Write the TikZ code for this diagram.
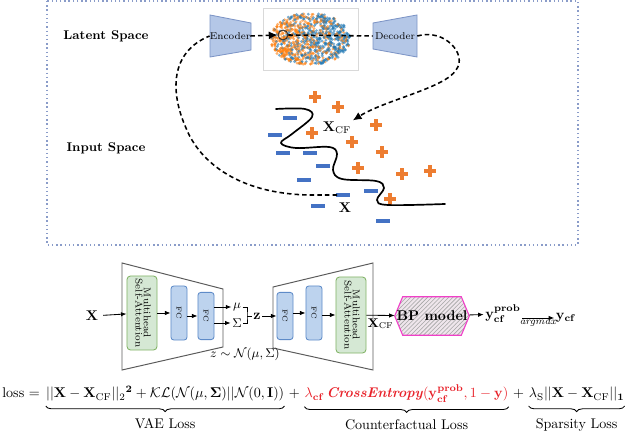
\documentclass[tikz,border=0pt]{standalone}
\usepackage{amsmath,amssymb}
\usetikzlibrary{arrows.meta,positioning,calc,patterns,decorations.pathreplacing}
\definecolor{Slate}{HTML}{5A5A5A}
\definecolor{BoxDot}{HTML}{8A9CC9}
\definecolor{EncFill}{HTML}{B4C7E7}
\definecolor{EncLine}{HTML}{7D95C6}
\definecolor{AttnFill}{HTML}{D5E8D4}
\definecolor{AttnLine}{HTML}{82B366}
\definecolor{FCFill}{HTML}{BDD3EE}
\definecolor{FCLine}{HTML}{5E8BC8}
\definecolor{PlusOr}{HTML}{ED7D31}
\definecolor{MinusBl}{HTML}{4472C4}
\definecolor{DotOr}{HTML}{FF7F0E}
\definecolor{DotBl}{HTML}{1F77B4}
\definecolor{BPLine}{HTML}{F040C8}
\definecolor{BPFill}{HTML}{EFE6EC}
\definecolor{CfRed}{HTML}{E8222A}
\tikzset{
  trap/.style={draw=EncLine,fill=EncFill,line width=.6pt},
  outertrap/.style={draw=Slate,line width=.7pt},
  dashline/.style={draw=black,line width=1.1pt,dash pattern=on 3.2pt off 2.2pt},
  attn/.style={draw=AttnLine,fill=AttnFill,rounded corners=2.5pt,line width=.6pt,minimum width=.75cm,minimum height=1.85cm,inner sep=0pt,font=\scriptsize},
  fcbox/.style={draw=FCLine,fill=FCFill,rounded corners=2pt,line width=.6pt,minimum width=.4cm,inner sep=0pt,font=\tiny},
  arr/.style={-{Latex[length=1.4mm,width=1.1mm]},line width=.6pt},
  brc/.style={decorate,decoration={brace,amplitude=4pt,raise=1pt},line width=.6pt},
  plussign/.pic={\fill[PlusOr] (-6,-2) rectangle (6,2); \fill[PlusOr] (-2,-6) rectangle (2,6);},
  minussign/.pic={\fill[MinusBl] (-7,-2) rectangle (7,2);}
}

\begin{document}
\begin{tikzpicture}[x=0.025cm,y=-0.025cm]
  \useasboundingbox (0,0) rectangle (640,438);
  % upper panel
  \draw[BoxDot,line width=1pt,dotted] (47,1) rectangle (578,245);
  \node[font=\small\bfseries] (latent) at (106,36) {Latent Space};
  \node[font=\small\bfseries] (input) at (106,148) {Input Space};

  \draw[trap] (210,15) -- (251,23) -- (251,50) -- (210,57) -- cycle;
  \draw[trap] (373,23) -- (417,15) -- (417,57) -- (373,49) -- cycle;
  \node[font=\scriptsize,inner sep=0pt,minimum width=1cm] (encL) at (230,36) {Encoder};
  \node[font=\scriptsize,inner sep=0pt,minimum width=1.1cm] (decL) at (395,36) {Decoder};

  % latent scatter
  \draw[gray!30,line width=.5pt] (263,8) rectangle (358,70);
  \pgfmathsetseed{42}
  \foreach \k in {1,...,950}{
    \pgfmathsetmacro\ang{360*rnd}
    \pgfmathsetmacro\rad{sqrt(rnd)}
    \pgfmathsetmacro\px{310+40*\rad*cos(\ang)}
    \pgfmathsetmacro\py{39+26*\rad*sin(\ang)}
    \pgfmathtruncatemacro\isor{rnd<(0.5-0.35*\rad*cos(\ang)) ? 1 : 0}
    \ifnum\isor=1
      \fill[DotOr,opacity=.6] (\px,\py) circle[radius=1.1pt];
    \else
      \fill[DotBl,opacity=.6] (\px,\py) circle[radius=1.1pt];
    \fi
  }
  \node[draw=black!80,circle,line width=.7pt,inner sep=0pt,minimum size=7pt] (zpt) at (283,35) {};
  \draw[dashline,-{Latex[length=2.2mm,width=2mm]}] (encL.east) -- (zpt.west);
  \draw[dashline] (zpt.east) -- (decL.west);

  % input space
  \foreach \q in {(315,97),(338,107),(376,125),(312,133),(352,142),(382,152),(358,168),(402,174),(430,171),(390,199)}
    \pic at \q {plussign};
  \foreach \q in {(290,118),(275,135),(283,153),(310,153),(323,166),(304,180),(343,195),(371,191),(318,206),(383,221)}
    \pic at \q {minussign};
  \draw[line width=1.2pt,line cap=round] plot[smooth,tension=.6] coordinates
    {(276,109) (305,109) (312,117) (292,134) (281,143) (296,148) (329,147) (337,154) (333,170) (342,179) (376,181) (384,188) (377,200) (388,205) (445,204)};
  \node[inner sep=1pt] (xcfT) at (337,128) {$\mathbf{X}_{\mathrm{CF}}$};
  \node[inner sep=1pt] (xT) at (345,208) {$\mathbf{X}$};
  \coordinate (xpt) at (337,195);
  \draw[dashline,-{Latex[length=2.2mm,width=2mm]}] (decL.east) .. controls (445,28) and (468,55) .. (456,70)
    .. controls (445,88) and (385,100) .. (xcfT.north east);
  \draw[dashline] (xpt) -- (310,195) .. controls (240,194) and (200,163) .. (186,128)
    .. controls (170,92) and (170,52) .. (encL.west);

  % lower diagram
  \draw[outertrap] (122,263) -- (223,289) -- (223,347) -- (122,370) -- cycle;
  \draw[outertrap] (273,287) -- (373,263) -- (373,370) -- (273,348) -- cycle;
  \node (xin) at (92,316) {$\mathbf{X}$};
  \node[attn] (attnA) at (142,313) {\rotatebox{-90}{\begin{tabular}{@{}c@{}}Multihead\\[-2pt]Self-Attention\end{tabular}}};
  \node[fcbox,minimum height=1.35cm] (fcA) at (179,313) {\rotatebox{-90}{FC}};
  \node[fcbox,minimum height=1.18cm] (fcB) at (206,316) {\rotatebox{-90}{FC}};
  \node[inner sep=1pt,font=\small] (mu) at (237,307) {$\mu$};
  \node[inner sep=1pt,font=\small] (sig) at (237,323) {$\Sigma$};
  \node[inner sep=1pt] (zz) at (257,316) {$\mathbf{z}$};
  \coordinate (brk) at (247,316);
  \node[fcbox,minimum height=1.18cm] (fcC) at (285,316) {\rotatebox{-90}{FC}};
  \node[fcbox,minimum height=1.35cm] (fcD) at (314,313) {\rotatebox{-90}{FC}};
  \node[attn,minimum height=1.9cm] (attnB) at (351,315) {\rotatebox{-90}{\begin{tabular}{@{}c@{}}Multihead\\[-2pt]Self-Attention\end{tabular}}};
  \node[minimum width=1.85cm,minimum height=.95cm,inner sep=0pt] (bp) at (432,316) {};
  \draw[BPLine,line width=.8pt,preaction={fill=BPFill},pattern=north east lines,pattern color=gray!70]
    (bp.west) -- ($(bp.north west)+(8,0)$) -- ($(bp.north east)+(-8,0)$) -- (bp.east)
    -- ($(bp.south east)+(-8,0)$) -- ($(bp.south west)+(8,0)$) -- cycle;
  \node[font=\bfseries] (bptext) at (bp) {BP model};
  \node[inner sep=1pt] (yprob) at (503,314) {$\mathbf{y}^{\mathbf{prob}}_{\mathbf{cf}}$};
  \node[inner sep=1pt] (ycf) at (566,318) {$\mathbf{y}_{\mathbf{cf}}$};

  \draw[arr] (xin) -- (attnA);
  \draw[arr] (attnA) -- (fcA);
  \draw[arr] (fcA.east |- fcB) -- (fcB);
  \draw[arr] (fcB.east |- mu) -- (mu.west);
  \draw[arr] (fcB.east |- sig) -- (sig.west);
  \draw[line width=.6pt] (mu.east) -| (brk) |- (sig.east);
  \draw[line width=.6pt] (brk) -- (zz.west);
  \draw[arr] (zz.east) -- (fcC);
  \draw[arr] (fcC.east |- fcD) -- (fcD);
  \draw[arr] (fcD.east |- attnB) -- (attnB);
  \draw[arr] (attnB) -- node[below,font=\small,inner sep=2pt] (xcfB) {$\mathbf{X}_{\mathrm{CF}}$} (bp);
  \draw[arr] (bp) -- (yprob);
  \draw[arr] (yprob.east |- ycf) -- node[below,font=\scriptsize,inner sep=1pt] (amax) {$\mathit{argmax}$} (ycf);
  \node[font=\small] (zdist) at (245,354) {$z\sim\mathcal{N}(\mu,\Sigma)$};

  % loss
  \node[anchor=base west,inner sep=0pt] (lossL) at (2,398) {loss $=$};
  \node[anchor=base west,inner sep=0pt] (vae) at ([xshift=4pt]lossL.base east)
    {$||\mathbf{X}-\mathbf{X}_{\mathrm{CF}}||_{2}{}^{\mathbf{2}}+\mathcal{KL}(\mathcal{N}(\mu,\mathbf{\Sigma})||\mathcal{N}(0,\mathbf{I}))$};
  \node[anchor=base west,inner sep=0pt] (plusA) at ([xshift=3pt]vae.base east) {$+$};
  \node[anchor=base west,inner sep=0pt,text=CfRed] (cfl) at ([xshift=3pt]plusA.base east)
    {$\lambda_{\mathbf{cf}}$\,\textbf{\textit{CrossEntropy}}$(\mathbf{y}^{\mathbf{prob}}_{\mathbf{cf}},1-\mathbf{y})$};
  \node[anchor=base west,inner sep=0pt] (plusB) at ([xshift=3pt]cfl.base east) {$+$};
  \node[anchor=base west,inner sep=0pt] (spl) at ([xshift=3pt]plusB.base east)
    {$\lambda_{\mathrm{S}}||\mathbf{X}-\mathbf{X}_{\mathrm{CF}}||_{\mathbf{1}}$};
  \draw[brc] ([yshift=-2pt]vae.south east) -- ([yshift=-2pt]vae.south west);
  \draw[brc] ([yshift=-2pt]cfl.south east) -- ([yshift=-2pt]cfl.south west);
  \draw[brc] ([yshift=-2pt]spl.south east) -- ([yshift=-2pt]spl.south west);
  \node[below=.3cm of vae.south] (vaeT) {VAE Loss};
  \node[below=.3cm of cfl.south] (cfT) {Counterfactual Loss};
  \node[below=.3cm of spl.south] (spT) {Sparsity Loss};
\end{tikzpicture}
\end{document}
